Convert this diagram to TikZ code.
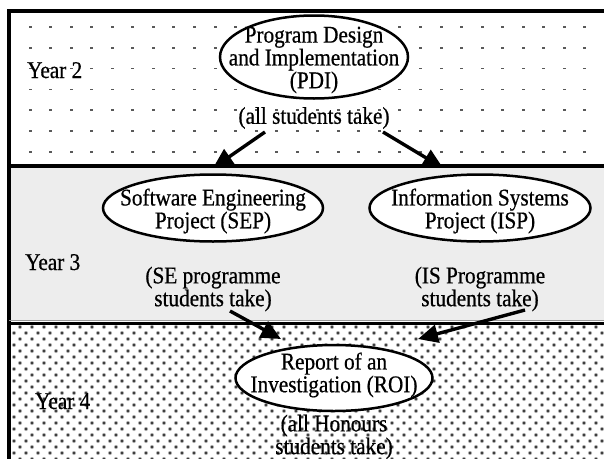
\documentclass[tikz,border=0pt]{standalone}
\usepackage{fontspec}
\setmainfont{Liberation Serif}[FakeStretch=0.885,FakeBold=0.6]
\usetikzlibrary{shapes.geometric,arrows.meta}

\tikzset{
  band/.style={line width=3.2pt},
  oval/.style={draw, ellipse, line width=2.5pt, fill=white, inner sep=0pt},
  lbl/.style={align=center, inner sep=0pt, font=\fontsize{24}{21}\selectfont},
  yearlbl/.style={anchor=base west, inner sep=0pt, font=\fontsize{24}{21}\selectfont},
  flow/.style={line width=3.4pt, -{Triangle[length=20pt,width=18pt]}},
  griddot/.style={fill=black!65},
  densedot/.style={fill=black!80},
  densehalo/.style={fill=black!28},
}

\begin{document}
\begin{tikzpicture}[x=1pt,y=-1pt]
\useasboundingbox (0,0) rectangle (604,458);
\clip (0,0) rectangle (604,458);

% Year 3 band: light grey
\fill[black!7] (9,166) rectangle (610,321);

% Year 2 band: sparse grid of small dashes
\foreach \j in {0,...,6}
  \foreach \k in {0,...,29}
    \fill[griddot] ({9.5+20.55*\k-1.5},{27+20.8*\j-0.8}) rectangle ++(3,1.6);

% Year 4 band: staggered stipple, kept inside the border
\begin{scope}
  \clip (10,323) rectangle (610,460);
  \foreach \j in {0,...,23} {
    \pgfmathsetmacro\off{mod(\j,2)*6}
    \foreach \k in {0,...,51} {
      \fill[densehalo] ({8+\off+12*\k},{327+6*\j}) circle (2.1);
      \fill[densedot] ({8+\off+12*\k},{327+6*\j}) circle (1.3);
    }
  }
\end{scope}

% band borders
\draw[band] (9,470) -- (9,11) -- (615,11);
\draw[band] (9,166) -- (615,166);
\draw[black!40, line width=0.8pt] (9,320) -- (615,320);
\draw[band] (9,323.5) -- (615,323.5);

% year labels
\node[yearlbl] (y2) at (27,78) {Year 2};
\node[yearlbl] (y3) at (25,270) {Year 3};
\node[yearlbl] (y4) at (35,409) {Year 4};

% Year 2
\node[oval, minimum width=188pt, minimum height=83pt] (pdi) at (314,57) {};
\node[lbl] (pdit) at (314,60) {Program Design\\and Implementation\\(PDI)};
\node[lbl] (pdinote) at (314,118) {(all students take)};

% Year 3
\node[oval, minimum width=220pt, minimum height=67pt] (sep) at (213,208) {};
\node[lbl] (sept) at (213,211) {Software Engineering\\Project (SEP)};
\node[oval, minimum width=221pt, minimum height=67pt] (isp) at (480,208) {};
\node[lbl] (ispt) at (480,211) {Information Systems\\Project (ISP)};
\node[lbl] (sepnote) at (213,289) {(SE programme\\students take)};
\node[lbl] (ispnote) at (480,289) {(IS Programme\\students take)};

% Year 4
\node[oval, minimum width=197pt, minimum height=66pt] (roi) at (334,378) {};
\node[lbl] (roit) at (334,375) {Report of an\\Investigation (ROI)};
\node[lbl] (roinote) at (334,437) {(all Honours\\students take)};

% arrow end points
\coordinate (pdiL) at (265,132);
\coordinate (pdiR) at (383,132);
\coordinate (sepIn) at (213,168);
\coordinate (ispIn) at (443,168);
\coordinate (sepOut) at (230,311);
\coordinate (ispOut) at (525,310);
\coordinate (roiL) at (281,339);
\coordinate (roiR) at (418,339);

\draw[flow] (pdiL) -- (sepIn);
\draw[flow] (pdiR) -- (ispIn);
\draw[flow] (sepOut) -- (roiL);
\draw[flow] (ispOut) -- (roiR);
\end{tikzpicture}
\end{document}
